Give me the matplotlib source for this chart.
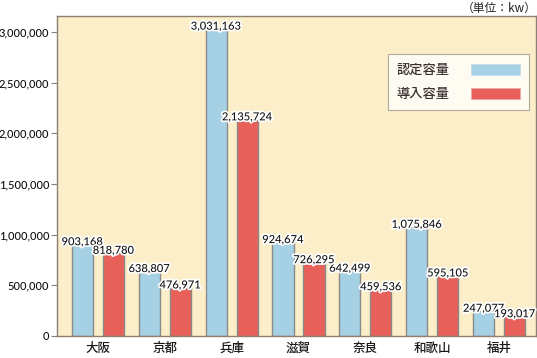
import matplotlib
matplotlib.use("Agg")
import matplotlib.pyplot as plt
import matplotlib.patheffects as pe
from matplotlib.patches import Patch
import numpy as np

plt.rcParams['font.family'] = ['Noto Sans CJK JP', 'DejaVu Sans']
NUMFONT = ['Lato', 'DejaVu Sans']

categories = ["大阪", "京都", "兵庫", "滋賀", "奈良", "和歌山", "福井"]
nintei = [903168, 638807, 3031163, 924674, 642499, 1075846, 247077]
donyu = [818780, 476971, 2135724, 726295, 459536, 595105, 193017]
series_names = ["認定容量", "導入容量"]
yticks = [0, 500000, 1000000, 1500000, 2000000, 2500000, 3000000]

fig = plt.figure(figsize=(5.37, 3.58), dpi=100)
ax = fig.add_axes([57/537, 22/358, 479/537, 320/358])
bg = "#fbeec8"
ax.set_facecolor(bg)
edge = "#8d7f74"
c1, c2 = "#a6d0e4", "#e8605a"

x = np.arange(len(categories))
w = 0.315
off = 0.232
b1 = ax.bar(x - off, nintei, w, color=c1, edgecolor="#8a8a8a", linewidth=1.0)
b2 = ax.bar(x + off, donyu, w, color=c2, edgecolor="#8a8a8a", linewidth=1.0)

stroke = [pe.withStroke(linewidth=2.5, foreground="white")]
for k, (bars, vals) in enumerate(((b1, nintei), (b2, donyu))):
    for r, v in zip(bars, vals):
        ax.annotate(f"{v:,}", (r.get_x() + r.get_width()/2, v), xytext=(0, -2),
                    textcoords="offset points", ha="center", va="bottom",
                    fontsize=8, family=NUMFONT, weight="medium", color="#111111",
                    path_effects=stroke, zorder=5 + k)

ax.set_xlim(-0.61, 6.55)
ax.set_ylim(0, 3158000)
ax.set_yticks(yticks)
ax.set_yticklabels([f"{t:,}" for t in yticks], fontsize=8, family=NUMFONT,
                   weight="medium", color="#111111")
ax.set_xticks(x)
ax.set_xticklabels(categories, fontsize=9, weight="medium", color="#1a1a1a")
ax.tick_params(axis="x", length=0, pad=4)
ax.tick_params(axis="y", length=4, width=0.8, color=edge, pad=1.5)
for s in ax.spines.values():
    s.set_color(edge)
    s.set_linewidth(1.0)

handles = [Patch(facecolor=c1, edgecolor="#c8dde8", linewidth=0.6, label=series_names[0]),
           Patch(facecolor=c2, edgecolor="#f0a8a0", linewidth=0.6, label=series_names[1])]
leg = ax.legend(handles=handles, loc="upper right", bbox_to_anchor=(0.9855, 0.882), markerfirst=False,
                prop={'family': ['Noto Sans CJK JP'], 'size': 9.5, 'weight': 'medium'},
                frameon=True, fancybox=False, handlelength=3.7,
                handleheight=0.9, borderpad=0.7, labelspacing=0.75, handletextpad=1.6,
                borderaxespad=0)
leg.get_frame().set_edgecolor("#a09890")
leg.get_frame().set_linewidth(0.8)
for t in leg.get_texts():
    t.set_color("#3a3030")

fig.text(1.0, 1 - 8/358, "（単位：kw）", ha="right", va="center", fontsize=8.5, color="#222222")

fig.savefig("out.png", dpi=100)
